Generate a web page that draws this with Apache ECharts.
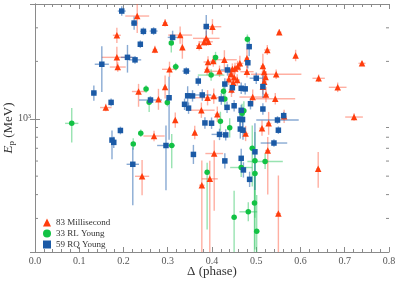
<!DOCTYPE html>
<html><head><meta charset="utf-8">
<script src="https://cdn.jsdelivr.net/npm/echarts@6/dist/echarts.min.js"></script>
<style>html,body{margin:0;padding:0;background:#fff}#c{width:399px;height:284px}</style>
</head><body><div id="c"></div>
<script>
// Axis settings
const xMin = 0, xMax = 0.8, xStep = 0.1;
const yMin = 200, yMax = 4000;
const yMajorTicks = [1000];
const yMinorTicks = [300, 400, 500, 600, 700, 800, 900, 2000, 3000];
const seriesNames = ['83 Millisecond', '33 RL Young', '59 RQ Young'];

// [phase Δ, Ep (MeV), Δ error, log10 error below, log10 error above]
const millisecond = [
  [0.231,3459,0.027,0.089,0.063],[0.294,3190,0.005,0.02,0.02],[0.185,2741,0.009,0.04,0.04],
  [0.328,2748,0.027,0.045,0.045],[0.271,2308,0.005,0.02,0.02],[0.333,2371,0.004,0.06,0.06],
  [0.371,2417,0.007,0.025,0.025],[0.185,2100,0.034,0.055,0.055],[0.187,1868,0.018,0.025,0.025],
  [0.304,1817,0.017,0.04,0.04],[0.294,1468,0.004,0.06,0.06],[0.234,1390,0.015,0.08,0.04],
  [0.279,1265,0.004,0.055,0.055],[0.160,1145,0.013,0.02,0.02],[0.317,985,0.004,0.04,0.04],
  [0.361,847,0.004,0.035,0.035],[0.269,812,0.024,0.028,0.028],[0.242,499,0.016,0.1,0.085],
  [0.401,3040,0.02,0.04,0.04],[0.387,2642,0.03,0.04,0.04],[0.382,2527,0.01,0.02,0.02],
  [0.392,2535,0.01,0.02,0.02],[0.552,2845,0.005,0.015,0.015],[0.525,2296,0.007,0.026,0.026],
  [0.589,2147,0.004,0.03,0.03],[0.739,1953,0.008,0.012,0.012],[0.479,2076,0.005,0.05,0.05],
  [0.403,2009,0.006,0.03,0.03],[0.428,2040,0.028,0.05,0.05],[0.391,1985,0.01,0.03,0.03],
  [0.463,1953,0.008,0.04,0.04],[0.458,1880,0.008,0.03,0.03],[0.452,1835,0.006,0.03,0.03],
  [0.446,1822,0.006,0.03,0.03],[0.417,1774,0.028,0.03,0.03],[0.479,1766,0.015,0.03,0.03],
  [0.515,1891,0.005,0.065,0.065],[0.518,1759,0.006,0.03,0.03],[0.545,1713,0.057,0.025,0.025],
  [0.641,1630,0.014,0.02,0.02],[0.684,1462,0.02,0.025,0.025],[0.521,1656,0.005,0.03,0.03],
  [0.518,1564,0.005,0.03,0.03],[0.443,1718,0.006,0.03,0.03],[0.450,1649,0.006,0.03,0.03],
  [0.457,1597,0.006,0.03,0.03],[0.438,1610,0.006,0.03,0.03],[0.448,1545,0.006,0.03,0.03],
  [0.444,1426,0.006,0.04,0.04],[0.404,1315,0.006,0.04,0.04],[0.390,1289,0.028,0.04,0.04],
  [0.492,1300,0.03,0.04,0.04],[0.522,1340,0.006,0.04,0.04],[0.543,1274,0.045,0.03,0.03],
  [0.376,1109,0.03,0.04,0.04],[0.412,1057,0.006,0.04,0.04],[0.563,1030,0.006,0.035,0.035],
  [0.721,1021,0.02,0.02,0.02],[0.528,946,0.006,0.06,0.06],[0.513,892,0.006,0.04,0.04],
  [0.476,837,0.006,0.04,0.04],[0.526,681,0.006,0.23,0.071],[0.405,657,0.02,0.3,0.07],
  [0.395,484,0.018,0.4,0.095],[0.377,448,0.006,0.4,0.13],[0.640,547,0.004,0.1,0.088],
  [0.550,318,0.006,0.4,0.2],[0.515,1473,0.006,0.04,0.04],[0.389,1812,0.006,0.03,0.03]
];
const rlYoung = [
  [0.308,2495,0.004,0.05,0.03],[0.318,1876,0.007,0.02,0.02],[0.251,1432,0.005,0.02,0.02],
  [0.258,1219,0.005,0.05,0.03],[0.299,1216,0.005,0.02,0.02],[0.083,946,0.015,0.1,0.08],
  [0.239,840,0.005,0.02,0.02],[0.222,737,0.005,0.03,0.03],[0.309,724,0.005,0.12,0.06],
  [0.480,2612,0.004,0.025,0.025],[0.408,2094,0.005,0.03,0.03],[0.398,1695,0.03,0.03,0.03],
  [0.426,1393,0.005,0.04,0.04],[0.429,1270,0.005,0.04,0.04],[0.468,1069,0.005,0.05,0.05],
  [0.419,970,0.005,0.05,0.05],[0.440,896,0.005,0.05,0.05],[0.472,1102,0.005,0.05,0.05],
  [0.491,700,0.006,0.2,0.12],[0.497,603,0.006,0.3,0.15],[0.520,597,0.04,0.04,0.04],
  [0.466,555,0.025,0.05,0.05],[0.389,524,0.005,0.3,0.05],[0.497,517,0.006,0.4,0.08],
  [0.496,362,0.006,0.3,0.15],[0.482,325,0.02,0.05,0.05],[0.450,304,0.005,0.3,0.14],
  [0.501,257,0.006,0.3,0.19]
];
const rqYoung = [
  [0.196,3673,0.009,0.025,0.025],[0.224,3177,0.007,0.035,0.035],[0.245,2876,0.007,0.02,0.02],
  [0.268,2885,0.009,0.02,0.02],[0.311,2672,0.011,0.035,0.035],[0.238,2460,0.004,0.02,0.02],
  [0.151,1932,0.016,0.145,0.095],[0.209,2100,0.015,0.08,0.065],[0.226,2037,0.014,0.02,0.02],
  [0.342,1779,0.009,0.02,0.02],[0.369,1577,0.005,0.025,0.025],[0.133,1365,0.006,0.04,0.04],
  [0.172,1219,0.005,0.02,0.02],[0.261,1254,0.026,0.02,0.02],[0.303,1289,0.005,0.22,0.11],
  [0.345,1320,0.005,0.05,0.05],[0.356,1318,0.005,0.03,0.03],[0.338,1191,0.005,0.03,0.03],
  [0.347,1137,0.005,0.03,0.03],[0.193,868,0.005,0.02,0.02],[0.174,773,0.005,0.1,0.05],
  [0.178,752,0.005,0.03,0.03],[0.387,3047,0.005,0.06,0.06],[0.484,2389,0.005,0.05,0.05],
  [0.481,1967,0.005,0.03,0.03],[0.435,1803,0.015,0.03,0.03],[0.500,1632,0.015,0.03,0.03],
  [0.378,1333,0.02,0.03,0.03],[0.466,1445,0.005,0.03,0.03],[0.475,1435,0.005,0.03,0.03],
  [0.429,1521,0.005,0.03,0.03],[0.446,1455,0.005,0.03,0.03],[0.515,1475,0.005,0.06,0.06],
  [0.421,1270,0.005,0.03,0.03],[0.450,1170,0.005,0.03,0.03],[0.434,1148,0.005,0.03,0.03],
  [0.487,1199,0.005,0.03,0.03],[0.515,1125,0.005,0.03,0.03],[0.466,1107,0.005,0.03,0.03],
  [0.384,951,0.005,0.03,0.03],[0.399,948,0.005,0.03,0.03],[0.463,996,0.005,0.04,0.04],
  [0.469,990,0.005,0.04,0.04],[0.464,883,0.005,0.05,0.05],[0.470,871,0.005,0.05,0.05],
  [0.548,985,0.048,0.02,0.02],[0.562,1038,0.005,0.02,0.02],[0.550,871,0.005,0.02,0.02],
  [0.417,828,0.018,0.03,0.03],[0.431,823,0.005,0.03,0.03],[0.540,746,0.03,0.02,0.02],
  [0.296,724,0.02,0.235,0.105],[0.358,650,0.005,0.05,0.05],[0.221,577,0.014,0.215,0.09],
  [0.429,601,0.005,0.04,0.04],[0.466,620,0.005,0.05,0.05],[0.497,671,0.005,0.2,0.15],
  [0.471,539,0.005,0.04,0.04],[0.485,481,0.005,0.04,0.04]
];

const colors = {
  ms: '#ff3d0d', msErr: 'rgba(255,95,70,0.5)',
  rl: '#12c244', rlErr: 'rgba(50,200,100,0.5)',
  rq: '#1b5aa6', rqErr: 'rgba(40,100,175,0.55)'
};
const axisGrey = '#8a8a8a';
const font = 'Liberation Serif';

function errRender(color) {
  return function (params, api) {
    const x = api.value(0), y = api.value(1), dx = api.value(2);
    const dlo = api.value(3), dhi = api.value(4);
    const l = api.coord([x - dx, y]), r = api.coord([x + dx, y]);
    const t = api.coord([x, y * Math.pow(10, dhi)]);
    const b = api.coord([x, y / Math.pow(10, dlo)]);
    const st = { stroke: color, lineWidth: 1.4 };
    return { type: 'group', children: [
      { type: 'line', shape: { x1: l[0], y1: l[1], x2: r[0], y2: r[1] }, style: st },
      { type: 'line', shape: { x1: t[0], y1: t[1], x2: b[0], y2: b[1] }, style: st }
    ]};
  };
}
function errSeries(data, color) {
  return { type: 'custom', renderItem: errRender(color), data: data,
    encode: { x: 0, y: 1 }, clip: true, silent: true, z: 1 };
}

const chart = echarts.init(document.getElementById('c'), null, { renderer: 'canvas' });
const xAxisBase = {
  type: 'value', min: xMin, max: xMax, interval: xStep,
  axisLine: { show: true, lineStyle: { color: axisGrey, width: 1 } },
  axisTick: { show: true, inside: true, length: 5, lineStyle: { color: axisGrey } },
  minorTick: { show: true, splitNumber: 5, length: 3, lineStyle: { color: axisGrey } },
  splitLine: { show: false }, minorSplitLine: { show: false }
};
const yAxisBase = {
  type: 'log', logBase: 10, min: yMin, max: yMax,
  axisLine: { show: true, lineStyle: { color: axisGrey, width: 1 } },
  axisTick: { show: true, inside: true, length: 5, lineStyle: { color: axisGrey } },
  splitLine: { show: false }
};

chart.setOption({
  animation: false,
  backgroundColor: '#fff',
  grid: { left: 35, right: 10, top: 4, bottom: 32, containLabel: false, outerBoundsMode: 'none' },
  legend: {
    data: seriesNames, orient: 'vertical', left: 43, top: 218, padding: 0,
    itemWidth: 8, itemHeight: 8, itemGap: 2,
    textStyle: { fontFamily: font, fontSize: 9, color: '#333' }
  },
  xAxis: [
    Object.assign({}, xAxisBase, {
      position: 'bottom',
      name: 'Δ (phase)', nameLocation: 'middle', nameGap: 13, nameMoveOverlap: false,
      nameTextStyle: { fontFamily: font, fontSize: 13, color: '#333' },
      axisLabel: { show: true, margin: 4, fontFamily: font, fontSize: 10, color: '#555',
        formatter: v => v.toFixed(1) }
    }),
    Object.assign({}, xAxisBase, { position: 'top', axisLabel: { show: false } })
  ],
  yAxis: [
    Object.assign({}, yAxisBase, {
      position: 'left',
      name: '{it|E}{sub|p} (MeV)', nameLocation: 'middle', nameGap: 19, nameMoveOverlap: false,
      nameTextStyle: { fontFamily: font, fontSize: 13, color: '#333',
        rich: { it: { fontFamily: font, fontStyle: 'italic', fontSize: 13, color: '#333' },
                sub: { fontFamily: font, fontSize: 9, color: '#333', padding: [6, 0, 0, 0] } } },
      axisLabel: { show: true, margin: 4, fontFamily: font, fontSize: 10, color: '#555',
        formatter: v => yMajorTicks.some(t => Math.abs(v - t) < 1) ? '10³' : '' }
    }),
    Object.assign({}, yAxisBase, { position: 'right', axisLabel: { show: false } })
  ],
  series: [
    errSeries(millisecond, colors.msErr),
    errSeries(rlYoung, colors.rlErr),
    errSeries(rqYoung, colors.rqErr),
    { type: 'custom', silent: true, clip: false, z: 5,
      data: yMinorTicks.map(v => [xMin, v]), encode: { x: 0, y: 1 },
      renderItem: function (params, api) {
        const v = api.value(1);
        const p = api.coord([xMin, v]), q = api.coord([xMax, v]);
        const st = { stroke: axisGrey, lineWidth: 1 };
        return { type: 'group', children: [
          { type: 'line', shape: { x1: p[0], y1: p[1], x2: p[0] + 3, y2: p[1] }, style: st },
          { type: 'line', shape: { x1: q[0], y1: q[1], x2: q[0] - 3, y2: q[1] }, style: st }
        ]};
      } },
    { name: seriesNames[0], type: 'scatter', symbol: 'triangle', symbolSize: 6.5,
      data: millisecond.map(d => [d[0], d[1]]), itemStyle: { color: colors.ms, opacity: 1 }, z: 3 },
    { name: seriesNames[1], type: 'scatter', symbol: 'circle', symbolSize: 5.5,
      data: rlYoung.map(d => [d[0], d[1]]), itemStyle: { color: colors.rl, opacity: 1 }, z: 3 },
    { name: seriesNames[2], type: 'scatter', symbol: 'rect', symbolSize: 5.5,
      data: rqYoung.map(d => [d[0], d[1]]), itemStyle: { color: colors.rq, opacity: 1 }, z: 3 }
  ]
});
</script></body></html>
